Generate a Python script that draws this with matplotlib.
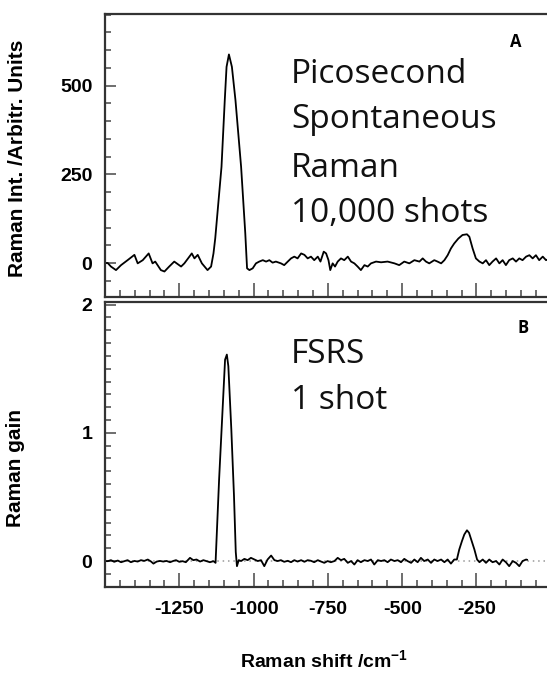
import numpy as np
import matplotlib.pyplot as plt
from matplotlib.ticker import MultipleLocator, FixedLocator

plt.rcParams['axes.unicode_minus'] = False
plt.rcParams['mathtext.fontset'] = 'custom'
plt.rcParams['mathtext.rm'] = 'Liberation Sans'
plt.rcParams['mathtext.bf'] = 'Liberation Sans:bold'

## Panel A: picosecond spontaneous Raman
spont_x = [-1500, -1491, -1480, -1463, -1446, -1424, -1401, -1390, -1373, -1353,
           -1340, -1331, -1312, -1300, -1284, -1267, -1244, -1233, -1216, -1208,
           -1199, -1188, -1174, -1155, -1143, -1135, -1129, -1108, -1097, -1091,
           -1083, -1073, -1061, -1042, -1028, -1022, -1014, -1003, -992, -981,
           -969, -958, -947, -936, -925, -908, -897, -885, -874, -863,
           -852, -840, -829, -818, -807, -796, -784, -775, -764, -756,
           -748, -742, -734, -726, -717, -706, -695, -683, -672, -661,
           -650, -639, -627, -616, -605, -588, -571, -549, -526, -510,
           -493, -476, -459, -442, -431, -420, -409, -392, -381, -369,
           -358, -347, -336, -325, -311, -297, -282, -274, -263, -252,
           -240, -229, -218, -207, -196, -184, -173, -162, -151, -140,
           -128, -117, -106, -95, -83, -72, -61, -50, -39, -27,
           -16, -5]
spont_y = [0, 0, -10, -20, -6, 8, 23, -1, 8, 27,
           -1, 4, -20, -24, -10, 4, -10, -1, 18, 27,
           13, 23, -1, -20, -10, 27, 70, 271, 459, 553,
           588, 553, 459, 271, 84, -15, -20, -15, -1, 4,
           8, 4, 8, 1, 4, -1, -6, 4, 13, 18,
           13, 27, 23, 13, 18, 8, 18, 4, 32, 27,
           8, -20, -1, -10, 4, 13, 8, 18, 4, -1,
           -10, -20, -6, -10, -1, 4, 2, 4, -1, -6,
           4, -1, 8, 4, 13, 4, -1, 8, 4, -1,
           8, 22, 41, 55, 69, 79, 81, 74, 41, 13,
           4, -1, 8, -6, 4, 13, -1, 8, -6, 8,
           13, 4, 13, 8, 18, 22, 13, 22, 8, 18,
           8, 12]

## Panel B: FSRS, 1 shot
fsrs_x = [-1500, -1491, -1480, -1469, -1457, -1446, -1435, -1424, -1413, -1401,
          -1390, -1379, -1368, -1356, -1345, -1337, -1326, -1315, -1304, -1293,
          -1281, -1270, -1261, -1250, -1239, -1228, -1214, -1203, -1192, -1180,
          -1169, -1158, -1147, -1135, -1128, -1116, -1105, -1096, -1090, -1085,
          -1075, -1066, -1060, -1056, -1050, -1042, -1031, -1020, -1009, -997,
          -986, -975, -964, -953, -941, -930, -919, -908, -897, -885,
          -874, -863, -852, -840, -829, -818, -807, -796, -784, -773,
          -762, -751, -740, -728, -717, -706, -695, -683, -672, -661,
          -650, -639, -627, -616, -605, -594, -582, -571, -560, -549,
          -538, -526, -515, -504, -493, -482, -470, -459, -448, -437,
          -426, -414, -403, -392, -381, -369, -358, -347, -336, -325,
          -316, -308, -299, -291, -282, -275, -266, -257, -248, -240,
          -229, -218, -207, -196, -184, -173, -162, -151, -140, -128,
          -117, -106, -95, -83, -80]
fsrs_y = [0.0, -0.001, 0.007, -0.006, 0.004, -0.009, -0.001, 0.007, -0.009, 0.001,
          -0.004, 0.007, 0.001, 0.012, -0.004, -0.02, -0.004, 0.001, -0.004, 0.001,
          -0.009, 0.001, 0.007, -0.006, -0.001, -0.009, 0.025, 0.007, 0.012, -0.004,
          0.007, -0.001, -0.009, -0.001, -0.014, 0.64, 1.16, 1.57, 1.61, 1.52,
          1.03, 0.51, 0.07, -0.04, 0.007, 0.0, 0.017, 0.007, 0.025, 0.012,
          0.0, 0.007, -0.04, 0.012, 0.043, 0.007, 0.0, 0.007, -0.006, 0.002,
          -0.009, 0.007, -0.004, 0.007, -0.006, 0.007, 0.002, -0.009, 0.007, -0.004,
          -0.014, 0.0, -0.009, 0.0, 0.025, 0.007, 0.017, -0.014, 0.0, -0.027,
          0.007, -0.009, 0.007, 0.0, 0.012, -0.027, 0.007, 0.0, 0.007, -0.009,
          0.012, 0.0, 0.007, -0.009, 0.017, 0.0, -0.014, 0.012, -0.009, 0.025,
          0.0, 0.012, -0.014, 0.012, 0.0, 0.012, -0.009, 0.012, -0.02, 0.012,
          0.012, 0.09, 0.155, 0.207, 0.24, 0.22, 0.155, 0.09, 0.012, -0.009,
          0.012, -0.014, 0.012, -0.009, 0.0, -0.027, 0.012, -0.009, -0.04, 0.0,
          -0.014, -0.04, 0.0, 0.012, 0.01]

xticks = [-1250, -1000, -750, -500, -250]
xticklabels = ['-1250', '-1000', '-750', '-500', '-250']

W, H = 547, 673
fig = plt.figure(figsize=(W / 100, H / 100), dpi=100)

def box(x0, y0, x1, y1):
    # pixel box -> figure fraction
    return [x0 / W, 1 - y1 / H, (x1 - x0) / W, (y1 - y0) / H]

ax1 = fig.add_axes(box(105, 14, 549, 296.7))
ax2 = fig.add_axes(box(105, 302, 549, 586.7))

tick_font = dict(family='Liberation Sans', weight='bold', size=14)

for ax in (ax1, ax2):
    ax.set_xlim(-1500, -6)
    for s in ax.spines.values():
        s.set_linewidth(1.6)
        s.set_color('#333333')
    ax.xaxis.set_major_locator(FixedLocator(xticks))
    ax.xaxis.set_minor_locator(MultipleLocator(50))
    ax.tick_params(axis='x', which='major', direction='in', length=10, width=1.2,
                   color='#555555', pad=10)
    ax.tick_params(axis='x', which='minor', direction='in', length=5, width=1.2,
                   color='#555555')
    ax.tick_params(axis='y', which='major', direction='in', length=8, width=1.2,
                   color='#555555', pad=9)
    ax.tick_params(axis='y', which='minor', direction='in', length=4.3, width=1.2,
                   color='#555555')
    ax.tick_params(top=False, right=False)

ax1.plot(spont_x, spont_y, color='k', lw=1.3)
ax1.set_ylim(-95, 702)
ax1.yaxis.set_minor_locator(MultipleLocator(50))
ax1.set_xticklabels([])
ax1.set_yticks([0, 250, 500])
ax1.set_yticklabels(['0', '250', '500'], fontdict=tick_font)

ax2.axhline(0, color='#999999', lw=1.1, ls=(0, (1, 2.5)))
ax2.plot(fsrs_x, fsrs_y, color='k', lw=1.3)
ax2.set_ylim(-0.2, 2.02)
ax2.yaxis.set_minor_locator(MultipleLocator(0.1))
ax2.set_yticks([0, 1, 2])
ax2.set_yticklabels(['0', '1', '2'], fontdict=tick_font)
ax2.set_xticklabels(xticklabels, fontdict=tick_font)

def ftext(x, y, s, **kw):
    fig.text(x / W, 1 - y / H, s, **kw)

note = dict(family='Open Sans', size=24, color='#111111', va='baseline', ha='left')
for s, yb in zip(['Picosecond', 'Spontaneous', 'Raman', '10,000 shots'], [83, 128, 177, 222]):
    ftext(291, yb, s, **note)
for s, yb in zip(['FSRS', '1 shot'], [363, 409]):
    ftext(291, yb, s, **note)

ftext(516, 42, 'A', family='Open Sans', weight='bold', size=12, ha='center', va='center')
ftext(523, 328, 'B', family='Open Sans', weight='bold', size=12, ha='center', va='center')

lab = dict(family='Liberation Sans', weight='bold', size=15, ha='center', va='center')
ftext(18, 158, 'Raman Int. /Arbitr. Units', rotation=90, **lab)
ftext(16, 468, 'Raman gain', rotation=90, **lab)
ftext(324, 661, r'Raman shift /cm$^{\mathbf{-1}}$', family='Liberation Sans', weight='bold',
      size=14, ha='center', va='center')

fig.savefig('out.png', dpi=100)
